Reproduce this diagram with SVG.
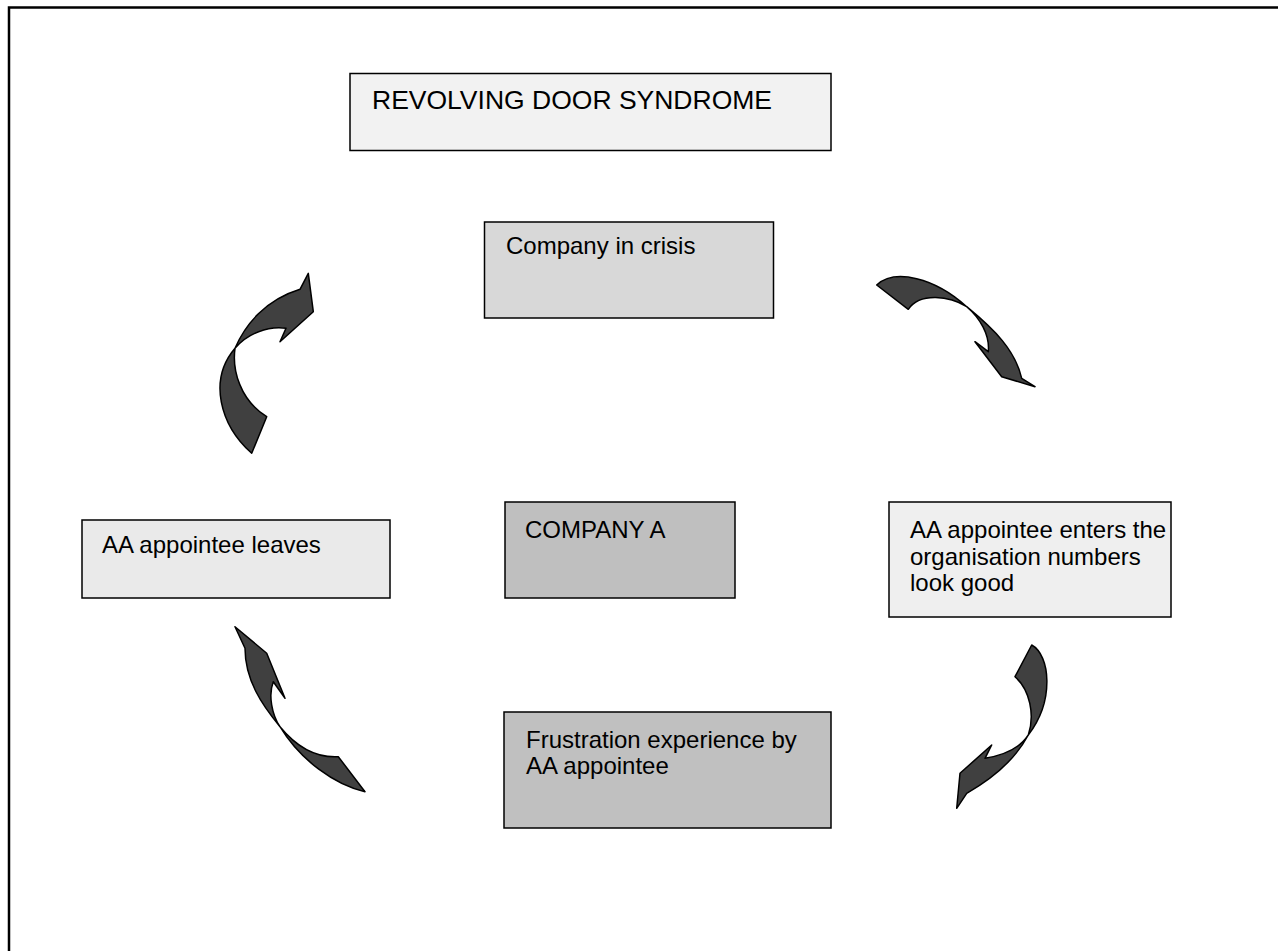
<svg xmlns="http://www.w3.org/2000/svg" width="1278" height="951" viewBox="0 0 1278 951">
<style>
.box{stroke:#000;stroke-width:1.5}
.t{font-family:"Liberation Sans",Arial,sans-serif;font-size:24px;fill:#000}
.arr{fill:#404040;stroke:#000;stroke-width:1.5;stroke-linejoin:round}
</style>
<rect x="0" y="0" width="1278" height="951" fill="#fff"/>
<rect x="9" y="7.5" width="1300" height="1000" fill="none" stroke="#000" stroke-width="2.5"/>
<g id="title">
<rect class="box" x="350" y="73.5" width="481" height="77" fill="#f2f2f2"/>
<text class="t" x="372" y="109" style="font-size:26.5px">REVOLVING DOOR SYNDROME</text>
</g>
<g id="crisis">
<rect class="box" x="484.5" y="222" width="289" height="96" fill="#d8d8d8"/>
<text class="t" x="506" y="254">Company in crisis</text>
</g>
<g id="enters">
<rect class="box" x="889" y="502" width="282" height="115" fill="#efefef"/>
<text class="t" x="910" y="538">AA appointee enters the</text>
<text class="t" x="910" y="564.5">organisation numbers</text>
<text class="t" x="910" y="591">look good</text>
</g>
<g id="leaves">
<rect class="box" x="82" y="520" width="308" height="78" fill="#eaeaea"/>
<text class="t" x="102" y="553">AA appointee leaves</text>
</g>
<g id="companyA">
<rect class="box" x="505" y="502" width="230" height="96" fill="#bfbfbf"/>
<text class="t" x="525" y="538">COMPANY A</text>
</g>
<g id="frustration">
<rect class="box" x="504" y="712" width="327" height="116" fill="#c0c0c0"/>
<text class="t" x="526" y="748">Frustration experience by</text>
<text class="t" x="526" y="774">AA appointee</text>
</g>
<g id="connectors">
<path class="arr" d="M251.7,453.3 C220,425 208,380 235,348.3 C245,325 265,300 300,289.3 L308.3,273.3 L313.3,311.7 L280,341.7 L286,328.3 C268,326 248,333 235,348.3 C232,370 240,400 266.7,416.7 Z"/>
<path class="arr" d="M876.7,285 C895,268 935,278 966.7,306.7 C995,330 1015,350 1021.7,378.3 L1035,386.7 L1001.7,376.7 L975,341.7 L988.3,351.7 C990,335 980,318 966.7,306.7 C950,296 920,292 908.3,309.3 Z"/>
<path class="arr" d="M1031.7,645 C1050,655 1055,700 1028.3,735 C1015,760 990,780 966.7,793.3 L956.7,808.3 L960,773.3 L991.7,745 L985,758.3 C1005,755 1020,748 1028.3,735 C1035,715 1030,690 1015,676.7 Z"/>
<path class="arr" d="M235,626.7 L266.7,653.3 L285,698.3 L273.3,681.7 C268,695 272,715 280,726.7 C295,745 315,758 338.3,756.7 L365,791.7 C335,785 300,760 280,726.7 C262,705 245,680 245,648.3 Z"/>
</g>
</svg>
